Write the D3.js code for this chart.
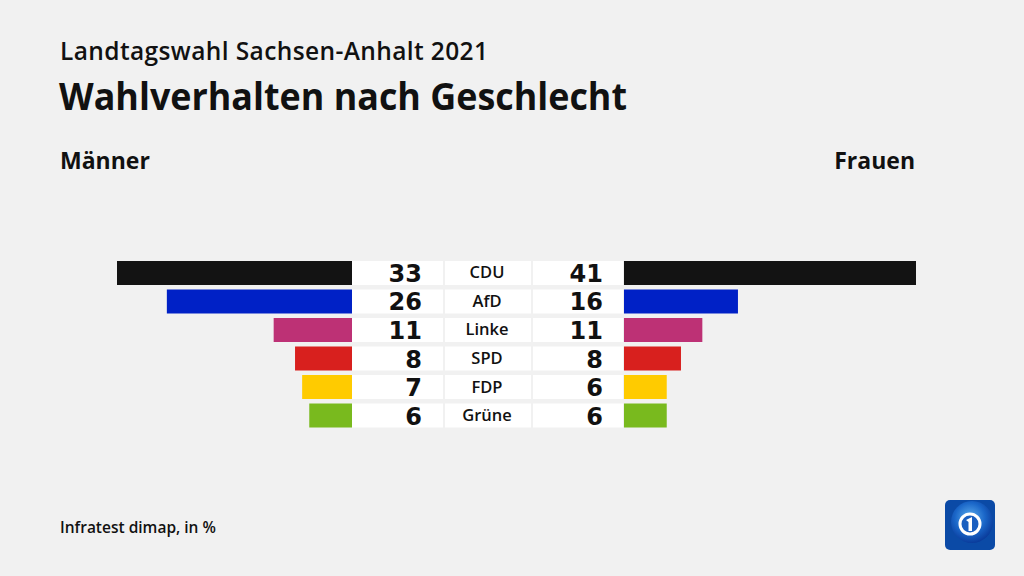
<!DOCTYPE html>
<html><head><meta charset="utf-8">
<script src="https://cdn.jsdelivr.net/npm/d3@7"></script>
<style>html,body{margin:0;padding:0;background:#f1f1f1;}svg{display:block;font-family:"Open Sans",sans-serif;}</style>
</head><body>
<svg id="c" width="1024" height="576"></svg>
<script>
const parties = ["CDU","AfD","Linke","SPD","FDP","Grüne"];
const maenner = [33,26,11,8,7,6];
const frauen = [41,16,11,8,6,6];
const colors = ["#131313","#0021c6","#bd3175","#d8201e","#ffcb00","#79ba1e"];

const svg = d3.select("#c");
svg.append("rect").attr("width",1024).attr("height",576).attr("fill","#f1f1f1");

svg.append("text").attr("x",60).attr("y",60).attr("font-size",24.5).attr("font-weight",600).attr("fill","#111").attr("textLength",428).text("Landtagswahl Sachsen-Anhalt 2021");
svg.append("text").attr("x",59).attr("y",110).attr("font-size",37).attr("font-weight",700).attr("fill","#111").attr("textLength",568).attr("lengthAdjust","spacingAndGlyphs").text("Wahlverhalten nach Geschlecht");
svg.append("text").attr("x",60).attr("y",169).attr("font-size",23).attr("font-weight",700).attr("fill","#111").text("Männer");
svg.append("text").attr("x",915).attr("y",169).attr("text-anchor","end").attr("font-size",23).attr("font-weight",700).attr("fill","#111").text("Frauen");
svg.append("text").attr("x",60).attr("y",533).attr("font-size",15.5).attr("font-weight",600).attr("fill","#111").text("Infratest dimap, in %");

const y = d3.scaleBand().domain(parties).range([261, 427.5]).paddingInner(0.158).paddingOuter(0);
const xL = d3.scaleLinear().domain([0,33]).range([352,117]);
const xR = d3.scaleLinear().domain([0,41]).range([624,916]);

const g = svg.append("g");
parties.forEach((p,i)=>{
  const yy = y(p), h = y.bandwidth();
  g.append("rect").attr("x",352).attr("y",yy).attr("width",91).attr("height",h).attr("fill","#fff");
  g.append("rect").attr("x",445).attr("y",yy).attr("width",86).attr("height",h).attr("fill","#fff");
  g.append("rect").attr("x",533).attr("y",yy).attr("width",90).attr("height",h).attr("fill","#fff");
  g.append("rect").attr("x",xL(maenner[i])).attr("y",yy).attr("width",xL(0)-xL(maenner[i])).attr("height",h).attr("fill",colors[i]);
  g.append("rect").attr("x",xR(0)).attr("y",yy).attr("width",xR(frauen[i])-xR(0)).attr("height",h).attr("fill",colors[i]);
  g.append("text").attr("x",422).attr("y",yy+h/2+9).attr("text-anchor","end").attr("font-family","DejaVu Sans").attr("font-size",24).attr("font-weight",700).attr("fill","#111").text(maenner[i]);
  g.append("text").attr("x",603).attr("y",yy+h/2+9).attr("text-anchor","end").attr("font-family","DejaVu Sans").attr("font-size",24).attr("font-weight",700).attr("fill","#111").text(frauen[i]);
  g.append("text").attr("x",487).attr("y",yy+h/2+5.5).attr("text-anchor","middle").attr("font-size",16.5).attr("font-weight",600).attr("fill","#111").text(p);
});

// logo
const defs = svg.append("defs");
const grad = defs.append("radialGradient").attr("id","lg").attr("cx","0.45").attr("cy","0.4").attr("r","0.6");
grad.append("stop").attr("offset","0").attr("stop-color","#5fb0f0");
grad.append("stop").attr("offset","0.6").attr("stop-color","#1a66c8");
grad.append("stop").attr("offset","1").attr("stop-color","#0a3c9c");
const lg = svg.append("g").attr("transform","translate(945,500)");
lg.append("rect").attr("width",50).attr("height",50).attr("rx",5).attr("fill","#0b4aa6");
lg.append("circle").attr("cx",27).attr("cy",22).attr("r",21).attr("fill","url(#lg)");
lg.append("circle").attr("cx",25).attr("cy",24).attr("r",10).attr("fill","#1a5fc0").attr("stroke","#fff").attr("stroke-width",3);
lg.append("path").attr("d","M21,20 L27,17 L27,31 L23.5,31 L23.5,22 Z").attr("fill","#fff");
</script>
</body></html>
